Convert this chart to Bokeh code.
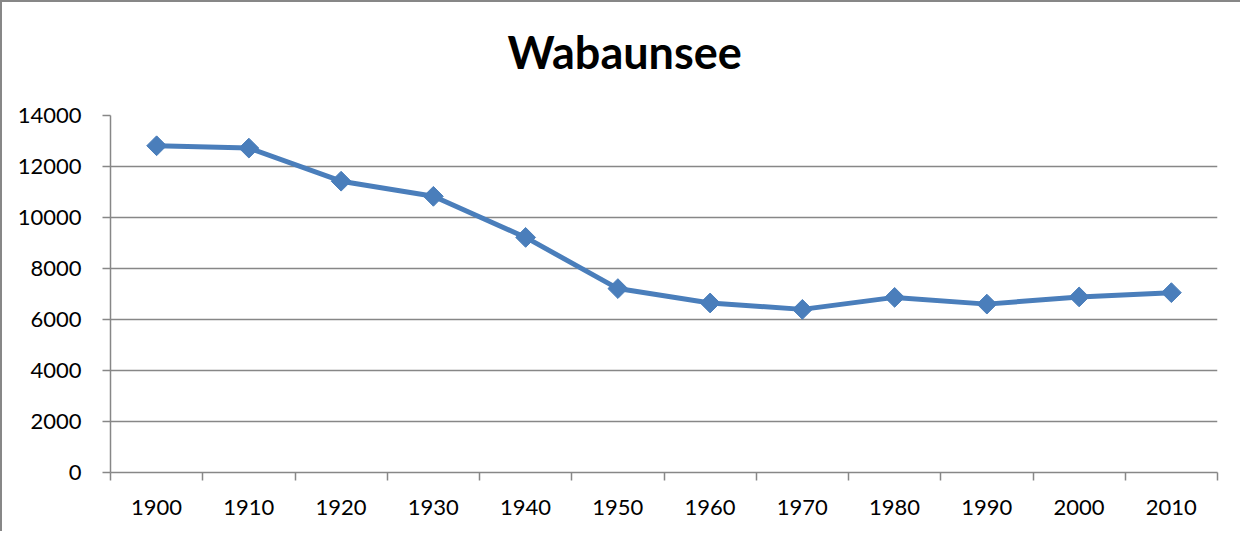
import math
from bokeh.plotting import figure
from bokeh.models import FixedTicker, Range1d, Title
from bokeh.embed import file_html
from bokeh.resources import INLINE

years = ["1900", "1910", "1920", "1930", "1940", "1950", "1960", "1970", "1980", "1990", "2000", "2010"]
population = [12813, 12721, 11424, 10830, 9219, 7212, 6648, 6397, 6867, 6603, 6885, 7053]
y_ticks = [0, 2000, 4000, 6000, 8000, 10000, 12000, 14000]
title_text = "Wabaunsee"

FONT = "Lato"
GRID = "#878787"
BLUE = "#4A7EBB"

xs = [i + 0.5 for i in range(len(years))]

p = figure(width=1240, height=531, output_backend="svg", toolbar_location=None,
           x_range=Range1d(0, len(years)), y_range=Range1d(y_ticks[0], y_ticks[-1]),
           min_border_left=108, min_border_right=25, min_border_top=113, min_border_bottom=61)
p.styles = {"border-left": "2px solid #878787", "border-top": "2px solid #878787"}
# empty spacer panel between the frame and the title
p.add_layout(Title(text=" ", text_font_size="1px", standoff=34), "above")
p.title = Title(text=title_text, align="left", offset=397, text_font=FONT, text_font_size="45px",
                text_font_style="bold", text_color="black", standoff=0)
p.outline_line_color = None
p.background_fill_color = "white"
p.border_fill_color = "white"

p.line(xs, population, line_color=BLUE, line_width=5)
p.scatter(xs, population, marker="square", angle=math.pi / 4, size=14,
          fill_color=BLUE, line_color=BLUE)

# x axis: labels at category centres, tick marks between categories
p.xaxis.ticker = FixedTicker(ticks=xs, minor_ticks=list(range(len(years) + 1)))
p.xaxis.major_label_overrides = {x: y for x, y in zip(xs, years)}
p.xaxis.major_tick_out = 0
p.xaxis.major_tick_in = 0
p.xaxis.minor_tick_out = 8
p.xaxis.minor_tick_in = 0
p.xaxis.minor_tick_line_color = GRID
p.xaxis.minor_tick_line_width = 1.5
p.xaxis.major_label_standoff = 19
p.xgrid.grid_line_color = None

p.yaxis.ticker = FixedTicker(ticks=y_ticks)
p.yaxis.major_tick_out = 8
p.yaxis.major_tick_in = 0
p.yaxis.minor_tick_line_color = None
p.yaxis.major_label_standoff = 21
p.ygrid.grid_line_color = GRID
p.ygrid.grid_line_width = 1.5

for ax in (p.xaxis, p.yaxis):
    ax.axis_line_color = GRID
    ax.axis_line_width = 1.5
    ax.major_tick_line_color = GRID
    ax.major_tick_line_width = 1.5
    ax.major_label_text_font = FONT
    ax.major_label_text_font_size = "22px"
    ax.major_label_text_color = "black"

open("out.html", "w").write(file_html(p, INLINE))
